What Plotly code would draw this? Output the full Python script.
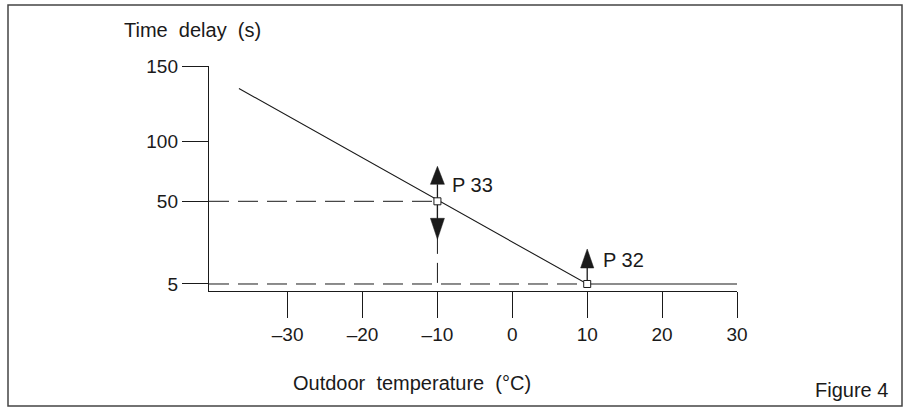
import plotly.graph_objects as go

# ---- data ----
x_ticks = [-30, -20, -10, 0, 10, 20, 30]
x_tick_text = ["\u201330", "\u201320", "\u201310", "0", "10", "20", "30"]
y_ticks = [5, 60, 100, 150]
y_tick_text = ["5", "50", "100", "150"]

curve_x = [-36.5, 10, 30]
curve_y = [135, 5, 5]

p33 = (-10, 60)
p32 = (10, 5)
point_labels = ["P 33", "P 32"]

x_range = [-40.5, 30]
y_range = [0.34, 150]

# ---- layout geometry ----
W, H = 909, 408
L, R, T, B = 209, 172, 66, 117
pw, ph = W - L - R, H - T - B
dx = (x_range[1] - x_range[0]) / pw   # data per px
dy = (y_range[1] - y_range[0]) / ph

FONT = "Liberation Sans, Arial, sans-serif"
INK = "#1a1a1a"
NB = "\u00a0"

fig = go.Figure()

# dashed guide lines
fig.add_trace(go.Scatter(x=[x_range[0], p33[0], p33[0]], y=[p33[1], p33[1], p32[1]],
                         mode="lines", line=dict(color=INK, width=1, dash="20px,9px"),
                         hoverinfo="skip", showlegend=False))
fig.add_trace(go.Scatter(x=[x_range[0], p32[0]], y=[p32[1], p32[1]],
                         mode="lines", line=dict(color=INK, width=1, dash="20px,9px"),
                         hoverinfo="skip", showlegend=False))

# main curve
fig.add_trace(go.Scatter(x=curve_x, y=curve_y, mode="lines",
                         line=dict(color=INK, width=1.1), showlegend=False))


def arrow(px_x, px_y, direction, base_off, tip_off, half_w=7):
    s = 1 if direction == "up" else -1
    yb = px_y + s * base_off * dy
    yt = px_y + s * tip_off * dy
    fig.add_trace(go.Scatter(x=[px_x, px_x], y=[px_y, yb], mode="lines",
                             line=dict(color=INK, width=1.3), showlegend=False,
                             hoverinfo="skip"))
    fig.add_trace(go.Scatter(x=[px_x - half_w * dx, px_x + half_w * dx, px_x, px_x - half_w * dx],
                             y=[yb, yb, yt, yb], mode="lines", fill="toself",
                             fillcolor=INK, line=dict(color=INK, width=0.5),
                             showlegend=False, hoverinfo="skip"))


arrow(p33[0], p33[1], "up", 17, 35)
arrow(p33[0], p33[1], "down", 17, 38)
arrow(p32[0], p32[1], "up", 16, 35, half_w=6.6)

# points
fig.add_trace(go.Scatter(x=[p33[0], p32[0]], y=[p33[1], p32[1]], mode="markers",
                         marker=dict(symbol="square", size=7, color="white",
                                     line=dict(color=INK, width=1)),
                         showlegend=False))

fig.update_layout(
    width=W, height=H,
    margin=dict(l=L, r=R, t=T, b=B, pad=0),
    paper_bgcolor="white", plot_bgcolor="white",
    font=dict(family=FONT, size=19, color=INK),
    showlegend=False,
    xaxis=dict(range=x_range, tickvals=x_ticks, ticktext=x_tick_text,
               ticks="outside", ticklen=26, tickwidth=1.4, tickcolor=INK,
               showline=True, linecolor=INK, linewidth=1.4,
               showgrid=False, zeroline=False, fixedrange=True,
               tickfont=dict(size=19)),
    yaxis=dict(range=y_range, tickvals=y_ticks, ticktext=y_tick_text,
               ticks="outside", ticklen=26, tickwidth=1.4, tickcolor=INK,
               showline=True, linecolor=INK, linewidth=1.4,
               showgrid=False, zeroline=False, fixedrange=True,
               tickfont=dict(size=19)),
)


def px2paper(x, y):
    return (x - L) / pw, (H - B - y) / ph


ann = []
tx, ty = px2paper(122, 30)
ann.append(dict(x=tx, y=ty, xref="paper", yref="paper",
                text="Time" + NB + " delay" + NB + " (s)",
                showarrow=False, xanchor="left", yanchor="middle", font=dict(size=20)))
tx, ty = px2paper(291, 383)
ann.append(dict(x=tx, y=ty, xref="paper", yref="paper",
                text="Outdoor" + NB + " temperature" + NB + " (°C)",
                showarrow=False, xanchor="left", yanchor="middle", font=dict(size=20)))
tx, ty = px2paper(890, 390)
ann.append(dict(x=tx, y=ty, xref="paper", yref="paper", text="Figure 4",
                showarrow=False, xanchor="right", yanchor="middle", font=dict(size=20)))
ann.append(dict(x=p33[0], y=p33[1], xref="x", yref="y", text=point_labels[0],
                showarrow=False, xanchor="left", yanchor="middle",
                xshift=13, yshift=16, font=dict(size=20)))
ann.append(dict(x=p32[0], y=p32[1], xref="x", yref="y", text=point_labels[1],
                showarrow=False, xanchor="left", yanchor="middle",
                xshift=14, yshift=24, font=dict(size=20)))
fig.update_layout(annotations=ann)

# figure frame
x0, y0 = px2paper(8, 406)
x1, y1 = px2paper(902, 5)
fig.add_shape(type="rect", xref="paper", yref="paper", x0=x0, y0=y0, x1=x1, y1=y1,
              line=dict(color="#444", width=1.5), fillcolor="rgba(0,0,0,0)", layer="above")

fig.write_html("out.html", config={"displayModeBar": False},
               post_script="document.body.style.margin='0';document.body.style.overflow='hidden';")
